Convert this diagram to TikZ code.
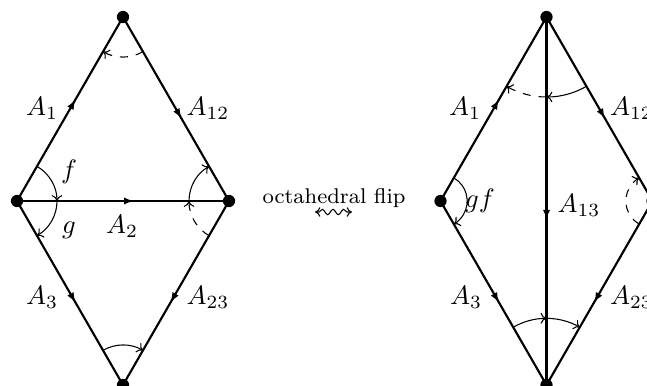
\documentclass[tikz,border=0pt]{standalone}
\usetikzlibrary{arrows.meta,decorations.markings,decorations.pathmorphing}
\tikzset{
  edge/.style={line width=0.8pt,postaction={decorate},
    decoration={markings,mark=at position 0.55 with {\arrow{Latex[length=3.6pt,width=2.8pt]}}}},
  plain/.style={line width=0.8pt},
  angarc/.style={line width=0.4pt,-{Computer Modern Rightarrow[length=2.2pt,width=4pt]}},
  dot/.style={circle,fill=black,inner sep=0pt,minimum size=4.6pt},
  lab/.style={inner sep=0pt}
}
\begin{document}
\begin{tikzpicture}[x=0.375pt,y=0.375pt]
\useasboundingbox (0,0) rectangle (647,385);
\clip (0,0) rectangle (647,385);
% left diamond
\node[dot] (T1) at (123,368) {};
\node[dot] (L1) at (17,184) {};
\node[dot] (R1) at (229,184) {};
\node[dot] (B1) at (123,0) {};
\draw[edge] (L1.center) -- (T1.center);
\draw[edge] (T1.center) -- (R1.center);
\draw[edge] (L1.center) -- (R1.center);
\draw[edge] (L1.center) -- (B1.center);
\draw[edge] (R1.center) -- (B1.center);
\draw[angarc] ([shift={(60:15pt)}]L1.center) arc[start angle=60,end angle=0,radius=15pt];
\draw[angarc] ([shift={(0:15pt)}]L1.center) arc[start angle=0,end angle=-60,radius=15pt];
\draw[angarc,dashed] ([shift={(-60:15pt)}]T1.center) arc[start angle=-60,end angle=-120,radius=15pt];
\draw[angarc] ([shift={(180:15pt)}]R1.center) arc[start angle=180,end angle=120,radius=15pt];
\draw[angarc,dashed] ([shift={(240:15pt)}]R1.center) arc[start angle=240,end angle=180,radius=15pt];
\draw[angarc] ([shift={(120:15pt)}]B1.center) arc[start angle=120,end angle=60,radius=15pt];
\node[lab] (a1) at (42,277) {$A_1$};
\node[lab] (a12) at (208,277) {$A_{12}$};
\node[lab] (a2) at (122,159) {$A_2$};
\node[lab] (a3) at (42,88) {$A_3$};
\node[lab] (a23) at (208,88) {$A_{23}$};
\node[lab] (f) at (69,213) {$f$};
\node[lab] (g) at (69,155) {$g$};
% middle
\node[lab] (flip) at (334,186.5) {\footnotesize octahedral flip};
\coordinate (sqa) at (315,173);
\coordinate (sqb) at (352,173);
\draw[line width=0.4pt,{Computer Modern Rightarrow[length=2pt,width=3.6pt]}-{Computer Modern Rightarrow[length=2pt,width=3.6pt]},
  decorate,decoration={snake,amplitude=1pt,segment length=4pt,pre length=1.5pt,post length=1.5pt}] (sqa) -- (sqb);
% right diamond
\node[dot] (T2) at (546.5,368) {};
\node[dot] (L2) at (440.5,184) {};
\node[dot] (R2) at (652.5,184) {};
\node[dot] (B2) at (546.5,0) {};
\draw[edge] (L2.center) -- (T2.center);
\draw[edge] (T2.center) -- (R2.center);
\draw[edge] (T2.center) -- (B2.center);
\draw[edge] (L2.center) -- (B2.center);
\draw[edge] (R2.center) -- (B2.center);
\draw[angarc] ([shift={(60:10pt)}]L2.center) arc[start angle=60,end angle=-60,radius=10pt];
\draw[angarc] ([shift={(-60:30pt)}]T2.center) arc[start angle=-60,end angle=-90,radius=30pt];
\draw[angarc,dashed] ([shift={(-90:30pt)}]T2.center) arc[start angle=-90,end angle=-120,radius=30pt];
\draw[angarc,dashed] ([shift={(240:10pt)}]R2.center) arc[start angle=240,end angle=120,radius=10pt];
\draw[angarc] ([shift={(120:25pt)}]B2.center) arc[start angle=120,end angle=90,radius=25pt];
\draw[angarc] ([shift={(90:25pt)}]B2.center) arc[start angle=90,end angle=60,radius=25pt];
\node[lab] (b1) at (465,277) {$A_1$};
\node[lab] (b12) at (631.5,277) {$A_{12}$};
\node[lab] (b13) at (579,180) {$A_{13}$};
\node[lab] (gf) at (480,184) {$gf$};
\node[lab] (b3) at (466,88) {$A_3$};
\node[lab] (b23) at (631.5,88) {$A_{23}$};
\end{tikzpicture}
\end{document}
